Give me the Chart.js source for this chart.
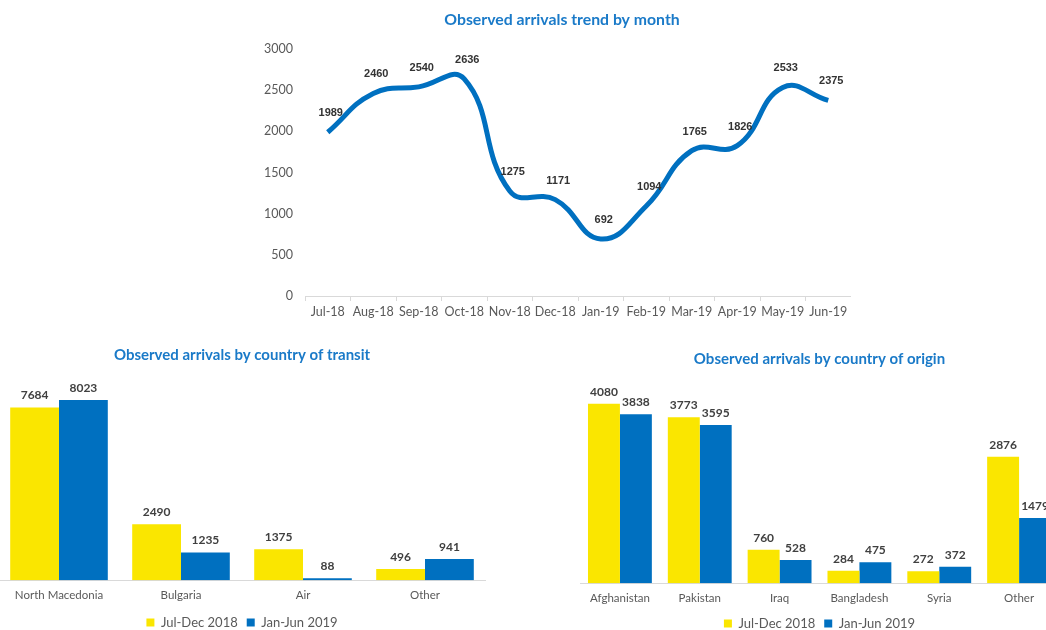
<!DOCTYPE html>
<html>
<head>
<meta charset="utf-8">
<script src="https://cdn.jsdelivr.net/npm/chart.js@4/dist/chart.umd.min.js"></script>
<style>
  body { margin: 0; width: 1046px; height: 630px; overflow: hidden; background: #fff; position: relative; }
  .box { position: absolute; }
</style>
</head>
<body>
<div class="box" style="left:261px; top:1px; width:590px; height:321px;"><canvas id="trend"></canvas></div>
<div class="box" style="left:-2px; top:338px; width:488px; height:301px;"><canvas id="transit"></canvas></div>
<div class="box" style="left:580px; top:342px; width:479px; height:298px;"><canvas id="origin"></canvas></div>
<script>
// Monthly trend
const months = ['Jul-18', 'Aug-18', 'Sep-18', 'Oct-18', 'Nov-18', 'Dec-18', 'Jan-19', 'Feb-19', 'Mar-19', 'Apr-19', 'May-19', 'Jun-19'];
const monthlyArrivals = [1989, 2460, 2540, 2636, 1275, 1171, 692, 1094, 1765, 1826, 2533, 2375];

// Country of transit
const transitCountries = ['North Macedonia', 'Bulgaria', 'Air', 'Other'];
const transit2018 = [7684, 2490, 1375, 496];
const transit2019 = [8023, 1235, 88, 941];

// Country of origin
const originCountries = ['Afghanistan', 'Pakistan', 'Iraq', 'Bangladesh', 'Syria', 'Other'];
const origin2018 = [4080, 3773, 760, 284, 272, 2876];
const origin2019 = [3838, 3595, 528, 475, 372, 1479];

const seriesNames = ['Jul-Dec 2018', 'Jan-Jun 2019'];

const yellow = '#FAE600';
const blue = '#0070C0';
const titleBlue = '#1A7AC8';
const grayText = '#595959';

Chart.defaults.font.family = 'Lato, "Open Sans", sans-serif';
Chart.defaults.color = grayText;
Chart.defaults.animation = false;

// Draw the value above each point / bar
const valueLabels = {
  id: 'valueLabels',
  afterDatasetsDraw(chart, args, opts) {
    const ctx = chart.ctx;
    ctx.save();
    ctx.font = opts.font || 'bold 11px Lato';
    ctx.fillStyle = opts.color || '#404040';
    ctx.textAlign = 'center';
    ctx.textBaseline = 'middle';
    chart.data.datasets.forEach((ds, i) => {
      const meta = chart.getDatasetMeta(i);
      meta.data.forEach((el, j) => {
        ctx.fillText(ds.data[j], el.x + (opts.dx || 0), el.y - (opts.dy || 12));
      });
    });
    ctx.restore();
  }
};

// Title placed at a fixed spot (the real one sits off the plot centre)
const fixedTitle = {
  id: 'fixedTitle',
  afterDraw(chart, args, opts) {
    const ctx = chart.ctx;
    ctx.save();
    ctx.font = 'bold 15.8px Lato';
    ctx.fillStyle = titleBlue;
    ctx.textAlign = 'center';
    ctx.textBaseline = 'middle';
    ctx.fillText(opts.text, opts.x, opts.y);
    ctx.restore();
  }
};

new Chart(document.getElementById('trend'), {
  type: 'line',
  data: {
    labels: months,
    datasets: [{
      data: monthlyArrivals,
      borderColor: blue,
      borderWidth: 5,
      pointRadius: 0,
      tension: 0.45,
      fill: false
    }]
  },
  options: {
    responsive: true,
    maintainAspectRatio: false,
    layout: { padding: { left: 0, right: 0, top: 48, bottom: 0 } },
    plugins: {
      legend: { display: false },
      tooltip: { enabled: false },
      fixedTitle: { text: 'Observed arrivals trend by month', x: 301, y: 19 },
      valueLabels: { font: 'bold 11px "Liberation Sans"', color: '#333', dy: 19, dx: 3 }
    },
    scales: {
      x: {
        offset: true,
        grid: { display: true, offset: true, drawOnChartArea: false, tickLength: 5, color: '#D9D9D9' },
        border: { color: '#D9D9D9' },
        ticks: { font: { size: 12.5 }, color: grayText, maxRotation: 0, autoSkip: false, padding: 3 }
      },
      y: {
        min: 0, max: 3000,
        afterFit: scale => { scale.width = 44; },
        grid: { display: false, drawTicks: false },
        border: { display: false },
        ticks: { stepSize: 500, font: { size: 12.5 }, color: grayText, padding: 12, callback: v => String(v) }
      }
    }
  },
  plugins: [valueLabels, fixedTitle]
});

function barChart(id, title, labels, a, b, yMax, extra) {
  return new Chart(document.getElementById(id), {
    type: 'bar',
    data: {
      labels: labels,
      datasets: [
        { label: seriesNames[0], data: a, backgroundColor: yellow, categoryPercentage: 0.8, barPercentage: 1.0 },
        { label: seriesNames[1], data: b, backgroundColor: blue, categoryPercentage: 0.8, barPercentage: 1.0 }
      ]
    },
    options: {
      responsive: true,
      maintainAspectRatio: false,
      layout: { padding: 0 },
      plugins: {
        legend: {
          position: 'bottom',
          labels: { boxWidth: 8, boxHeight: 8, font: { size: 13 }, color: grayText, padding: 9 }
        },
        tooltip: { enabled: false },
        title: {
          display: true,
          text: title,
          color: titleBlue,
          font: { size: 15, weight: 'bold' },
          padding: { top: 8, bottom: 16 }
        },
        valueLabels: { font: 'bold 12px Lato', color: '#404040', dy: 12 }
      },
      scales: {
        x: {
          afterFit: scale => { scale.height += extra; },
          grid: { display: false },
          border: { color: '#D9D9D9' },
          ticks: { font: { size: 11.5 }, color: grayText, maxRotation: 0, autoSkip: false, padding: 0 }
        },
        y: { display: false, min: 0, max: yMax }
      }
    },
    plugins: [valueLabels]
  });
}

barChart('transit', 'Observed arrivals by country of transit', transitCountries, transit2018, transit2019, 8910, 5);
barChart('origin', 'Observed arrivals by country of origin', originCountries, origin2018, origin2019, 4527, 3);
</script>
</body>
</html>
